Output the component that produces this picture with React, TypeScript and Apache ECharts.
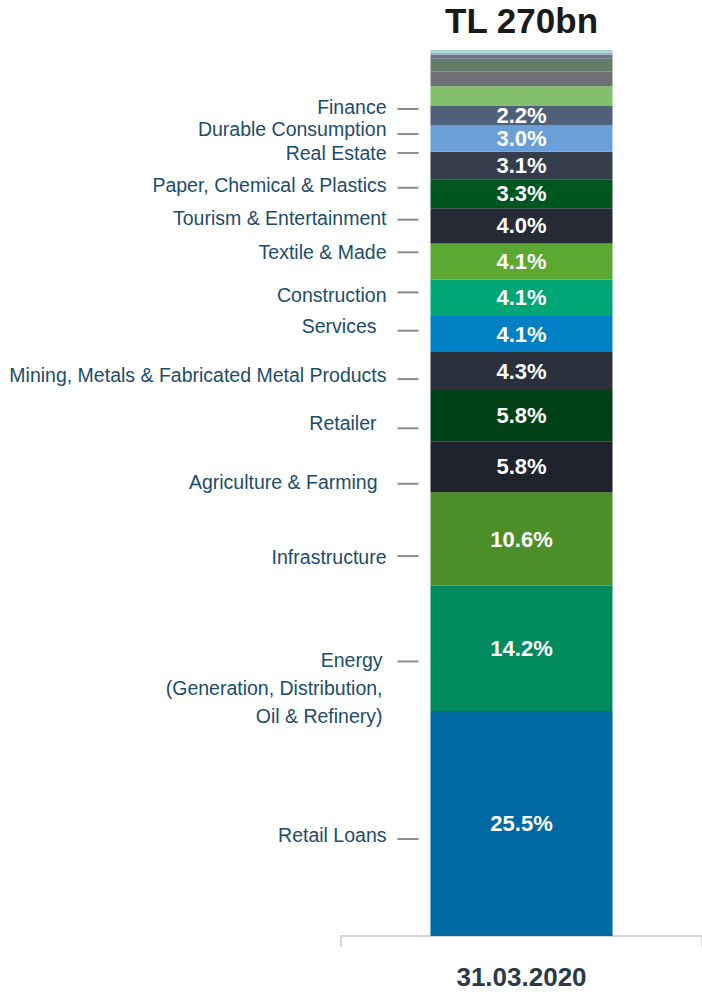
import React, { useEffect, useRef } from "react";
import * as echarts from "echarts";

// ---------- data (bottom of the bar → top) ----------
const categories = ["31.03.2020"];
const totalLabel = "TL 270bn";

const sectorNames = [
  "Retail Loans",
  "Energy (Generation, Distribution, Oil & Refinery)",
  "Infrastructure",
  "Agriculture & Farming",
  "Retailer",
  "Mining, Metals & Fabricated Metal Products",
  "Services",
  "Construction",
  "Textile & Made",
  "Tourism & Entertainment",
  "Paper, Chemical & Plastics",
  "Real Estate",
  "Durable Consumption",
  "Finance",
  "Other A",
  "Other B",
  "Other C",
  "Other D",
  "Other E",
  "Other F",
];

const sectorLabels = [
  "Retail Loans",
  "Energy\n(Generation, Distribution,\nOil & Refinery)",
  "Infrastructure",
  "Agriculture & Farming",
  "Retailer",
  "Mining, Metals & Fabricated Metal Products",
  "Services",
  "Construction",
  "Textile & Made",
  "Tourism & Entertainment",
  "Paper, Chemical & Plastics",
  "Real Estate",
  "Durable Consumption",
  "Finance",
  "",
  "",
  "",
  "",
  "",
  "",
];

const sectorShares = [
  25.5, 14.2, 10.6, 5.8, 5.8, 4.3, 4.1, 4.1, 4.1, 4.0, 3.3, 3.1, 3.0, 2.2,
  2.25, 1.65, 1.45, 0.45, 0.25, 0.3,
];

const sectorColors = [
  "#0068a2",
  "#008a5e",
  "#4c8e28",
  "#1f232e",
  "#004216",
  "#2a313c",
  "#0080c4",
  "#00a676",
  "#5ca832",
  "#262b36",
  "#00561f",
  "#333d4c",
  "#6a9fd8",
  "#4f6079",
  "#84c06c",
  "#6f7074",
  "#627e6a",
  "#6a7585",
  "#9aa6d0",
  "#a8d8c8",
];

// ---------- layout of the side labels ----------
const nameOffsets: number[][] = [
  [0, 11.5],
  [-4, 39.5],
  [0, 18],
  [-9, 15],
  [-10, 7.5],
  [0, 4],
  [-10, -8],
  [0, -3],
  [0, -10],
  [0, -8],
  [0, -9],
  [0, -12.5],
  [0, -9.5],
  [0, -8.7],
];
const dashOffsets = [15.5, 13, 17, 17, 12.7, 8, -3.3, -5.5, -9.4, -6.3, -6, -12.5, -4.6, -6.7];

const FONT = "'Liberation Sans', Arial, Helvetica, sans-serif";
const BAR_W = 182;

export default function App() {
  const ref = useRef<HTMLDivElement>(null);

  useEffect(() => {
    if (!ref.current) return;
    const chart = echarts.init(ref.current, undefined, { renderer: "svg" });
    const total = sectorShares.reduce((a, b) => a + b, 0);

    const series: any[] = [];
    sectorShares.forEach((v, i) => {
      const labeled = sectorLabels[i] !== "";
      series.push({
        type: "bar",
        name: sectorNames[i],
        stack: "shares",
        barWidth: BAR_W,
        barGap: "-100%",
        data: [v],
        itemStyle: { color: sectorColors[i] },
        emphasis: { disabled: true },
        label: {
          show: labeled,
          position: "inside",
          formatter: v.toFixed(1) + "%",
          color: "#ffffff",
          fontSize: 22,
          lineHeight: 22,
          fontWeight: "bold",
          fontFamily: FONT,
          textBorderWidth: 0,
        },
      });
    });
    sectorShares.forEach((v, i) => {
      const labeled = sectorLabels[i] !== "";
      const off = nameOffsets[i] || [0, 0];
      series.push({
        type: "bar",
        name: sectorNames[i] + " label",
        stack: "names",
        barWidth: BAR_W,
        barGap: "-100%",
        data: [v],
        silent: true,
        itemStyle: { color: "rgba(0,0,0,0)" },
        emphasis: { disabled: true },
        label: {
          show: labeled,
          position: "left",
          distance: 44,
          offset: off,
          formatter: sectorLabels[i],
          color: "#1b4d6d",
          fontSize: 19.5,
          lineHeight: 28,
          fontFamily: FONT,
          textBorderWidth: 0,
        },
      });
    });
    sectorShares.forEach((v, i) => {
      const labeled = sectorLabels[i] !== "";
      series.push({
        type: "bar",
        name: sectorNames[i] + " leader",
        stack: "leaders",
        barWidth: BAR_W,
        barGap: "-100%",
        data: [v],
        silent: true,
        itemStyle: { color: "rgba(0,0,0,0)" },
        emphasis: { disabled: true },
        label: {
          show: labeled,
          position: "left",
          distance: 12,
          offset: [0, dashOffsets[i] || 0],
          formatter: "{d|}",
          rich: { d: { width: 21, height: 2, backgroundColor: "#8c8c8c" } },
        },
      });
    });

    chart.setOption({
      animation: false,
      backgroundColor: "#ffffff",
      grid: { left: 341, right: -3, top: 50, bottom: 56, containLabel: false },
      xAxis: {
        type: "category",
        data: categories,
        axisLine: { show: true, lineStyle: { color: "#d6d6d6", width: 2 } },
        axisTick: { show: true, length: 11, lineStyle: { color: "#d6d6d6", width: 2 } },
        axisLabel: {
          fontSize: 26,
          fontWeight: "bold",
          color: "#2b3a4a",
          margin: 28,
          fontFamily: FONT,
        },
      },
      yAxis: { type: "value", min: 0, max: total, show: false },
      series,
    });

    const top = chart.convertToPixel({ gridIndex: 0 }, [categories[0], total]) as number[];
    chart.setOption({
      graphic: [
        {
          type: "text",
          x: top[0],
          y: top[1] - 29.5,
          style: {
            text: totalLabel,
            align: "center",
            verticalAlign: "middle",
            fontSize: 35,
            fontWeight: "bold",
            fill: "#1a1a1a",
            fontFamily: FONT,
          },
        },
      ],
    });

    return () => chart.dispose();
  }, []);

  return (
    <div
      ref={ref}
      style={{ position: "absolute", left: 0, top: 0, width: 702, height: 992 }}
    />
  );
}
